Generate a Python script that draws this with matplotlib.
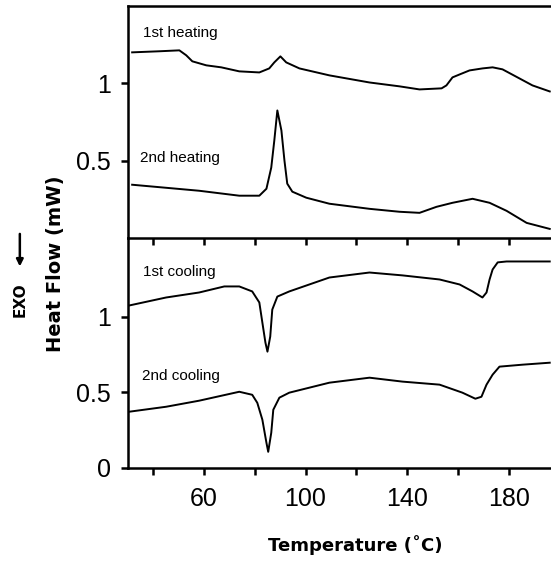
import matplotlib.pyplot as plt

# DSC traces
heat1_t = [31.7, 42.4, 50.3, 53.0, 55.4, 60.9, 66.8, 73.9, 81.8, 85.7, 87.7, 90.1, 92.4, 97.6,
           109.4, 125.2, 137.0, 144.9, 153.6, 155.5, 157.9, 160.7, 164.6, 169.7, 173.7, 177.6,
           184.3, 189.4, 196.2]
heat1_q = [1.201, 1.208, 1.214, 1.182, 1.143, 1.117, 1.104, 1.078, 1.071, 1.097, 1.136, 1.175, 1.136, 1.097,
           1.052, 1.006, 0.981, 0.961, 0.968, 0.987, 1.039, 1.058, 1.084, 1.097, 1.104, 1.091,
           1.032, 0.987, 0.948]

heat2_t = [31.7, 58.1, 73.9, 81.8, 84.6, 86.5, 87.7, 88.9, 90.5, 91.7, 92.8, 94.8, 100.3,
           109.4, 125.2, 137.0, 144.9, 151.6, 157.9, 165.8, 172.5, 179.2, 187.1, 196.2]
heat2_q = [0.344, 0.305, 0.273, 0.273, 0.318, 0.455, 0.630, 0.825, 0.695, 0.500, 0.351, 0.299, 0.260,
           0.221, 0.188, 0.169, 0.162, 0.201, 0.227, 0.253, 0.227, 0.175, 0.097, 0.058]

cool1_t = [30.5, 45.1, 58.1, 68.0, 73.9, 79.0, 81.8, 83.0, 84.2, 85.0, 86.1, 86.9, 88.9, 93.6,
           109.4, 125.2, 138.2, 152.8, 160.7, 165.8, 169.7, 171.3, 172.5, 173.7, 175.7, 179.2, 196.2]
cool1_q = [1.073, 1.126, 1.159, 1.199, 1.199, 1.166, 1.093, 0.960, 0.828, 0.768, 0.868, 1.046, 1.132, 1.166,
           1.258, 1.291, 1.272, 1.245, 1.212, 1.166, 1.126, 1.159, 1.245, 1.311, 1.358, 1.364, 1.364]

cool2_t = [30.5, 45.1, 58.1, 73.9, 79.0, 81.0, 83.0, 84.6, 85.3, 86.5, 87.3, 89.7, 93.6,
           109.4, 125.2, 138.2, 152.8, 161.8, 166.9, 169.3, 171.3, 173.7, 176.4, 185.5, 196.2]
cool2_q = [0.371, 0.404, 0.444, 0.503, 0.483, 0.430, 0.318, 0.166, 0.106, 0.232, 0.384, 0.464, 0.497,
           0.563, 0.596, 0.570, 0.550, 0.497, 0.457, 0.470, 0.550, 0.616, 0.669, 0.682, 0.695]

xticks = [40, 60, 80, 100, 120, 140, 160, 180]
xlabels = ["", "60", "", "100", "", "140", "", "180"]

fig = plt.figure(figsize=(5.51, 5.61), dpi=100)
ax2 = fig.add_axes([0.232, 0.166, 0.768, 0.410])
ax1 = fig.add_axes([0.232, 0.576, 0.768, 0.413])
ax1.patch.set_visible(False)
ax2.patch.set_visible(False)

tick_font = dict(family="Liberation Sans", size=18)
label_font = dict(family="Liberation Sans", size=11)

for ax in (ax1, ax2):
    ax.set_xlim(30, 196.7)
    ax.spines["right"].set_visible(False)
    for s in ax.spines.values():
        s.set_linewidth(1.8)
    ax.set_xticks(xticks)
    ax.tick_params(axis="both", direction="out", length=5, width=1.8, pad=7)

# top panel: heating runs
ax1.plot(heat1_t, heat1_q, color="black", lw=1.4)
ax1.plot(heat2_t, heat2_q, color="black", lw=1.4)
ax1.set_ylim(0, 1.5)
ax1.set_yticks([0.5, 1])
ax1.set_yticklabels(["0.5", "1"], **tick_font)
ax1.set_xticklabels([])
ax1.text(0.035, 0.884, "1st heating", transform=ax1.transAxes, va="center", **label_font)
ax1.text(0.028, 0.345, "2nd heating", transform=ax1.transAxes, va="center", **label_font)

# bottom panel: cooling runs
ax2.plot(cool1_t, cool1_q, color="black", lw=1.4)
ax2.plot(cool2_t, cool2_q, color="black", lw=1.4)
ax2.set_ylim(0, 1.52)
ax2.spines["top"].set_visible(False)
ax2.set_yticks([0, 0.5, 1])
ax2.set_yticklabels(["0", "0.5", "1"], **tick_font)
ax2.set_xticklabels(xlabels, **tick_font)
ax2.tick_params(axis="x", pad=9)
ax2.text(0.035, 0.852, "1st cooling", transform=ax2.transAxes, va="center", **label_font)
ax2.text(0.033, 0.40, "2nd cooling", transform=ax2.transAxes, va="center", **label_font)

fig.text(0.645, 0.028, "Temperature (˚C)", ha="center", va="center",
         fontsize=13, fontweight="bold", family="DejaVu Sans")
fig.text(0.100, 0.530, "Heat Flow (mW)", ha="center", va="center", rotation=90,
         fontsize=14, fontweight="bold", family="DejaVu Sans")

# EXO direction marker
fig.text(0.036, 0.465, "EXO", ha="center", va="center", rotation=90,
         fontsize=11, fontweight="bold", family="DejaVu Sans")
fig.add_artist(plt.matplotlib.patches.FancyArrowPatch(
    (0.036, 0.588), (0.036, 0.520), transform=fig.transFigure,
    arrowstyle="-|>", mutation_scale=10, lw=1.8, color="black"))

fig.savefig("out.png", dpi=100)
